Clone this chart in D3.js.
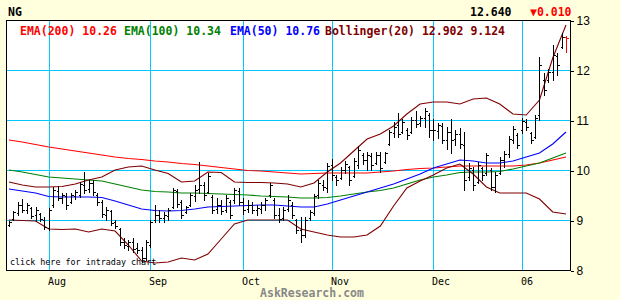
<!DOCTYPE html>
<html>
<head>
<meta charset="utf-8">
<script src="https://cdn.jsdelivr.net/npm/d3@7/dist/d3.min.js"></script>
<style>
  html, body { margin: 0; padding: 0; background: #ffffdd; }
  svg { display: block; }
  .mono { font-family: "DejaVu Sans Mono", "Liberation Mono", monospace; }
</style>
</head>
<body>
<div id="chart"></div>
<script>
"use strict";

// header
var symbol = "NG";
var lastPrice = "12.640";
var lastChange = "\u25BC0.010";

// daily bars (one per trading day, oldest first)
var barHigh = [
  8.98, 9.18, 9.36, 9.42, 9.34, 9.26, 9.26, 9.14, 9.06, 9.24,
  9.66, 9.68, 9.54, 9.54, 9.54, 9.60, 9.76, 9.96, 9.80, 9.80,
  9.54, 9.40, 9.26, 9.20, 9.00, 8.84, 8.64, 8.60, 8.64, 8.54,
  8.46, 8.60, 9.00, 9.30, 9.20, 9.16, 9.24, 9.64, 9.62, 9.40,
  9.28, 9.54, 9.70, 10.16, 9.76, 9.94, 9.50, 9.44, 9.40, 9.50,
  9.40, 9.64, 9.64, 9.44, 9.40, 9.36, 9.30, 9.36, 9.44, 9.74,
  9.44, 9.24, 9.26, 9.50, 9.36, 9.02, 9.06, 9.06, 9.20, 9.52,
  9.80, 9.80, 10.14, 10.22, 9.90, 10.06, 10.18, 10.08, 10.24, 10.48,
  10.34, 10.36, 10.34, 10.36, 10.36, 10.36, 10.80, 10.96, 11.14, 11.02,
  10.84, 11.06, 11.18, 11.08, 11.24, 11.14, 11.02, 10.94, 10.94, 10.86,
  11.02, 10.80, 10.84, 10.76, 10.14, 10.06, 10.16, 10.06, 10.34, 10.04,
  9.96, 10.26, 10.38, 10.68, 10.88, 10.74, 11.04, 11.02, 10.76, 11.10,
  12.26, 11.94, 12.02, 12.50, 12.34, 12.74, 12.68
];
var barLow = [
  8.88, 9.00, 9.10, 9.16, 9.14, 9.04, 8.98, 8.98, 8.82, 8.80,
  9.26, 9.40, 9.34, 9.22, 9.34, 9.42, 9.46, 9.54, 9.56, 9.50,
  9.30, 9.06, 9.00, 8.90, 8.84, 8.50, 8.44, 8.40, 8.36, 8.34,
  8.16, 8.20, 8.46, 8.96, 8.96, 8.96, 9.00, 9.24, 9.26, 9.04,
  9.14, 9.28, 9.38, 9.54, 9.40, 9.54, 9.14, 9.14, 9.12, 9.16,
  9.04, 9.34, 9.30, 9.12, 9.16, 9.14, 9.10, 9.14, 9.20, 9.46,
  9.04, 8.96, 9.00, 9.18, 9.04, 8.74, 8.56, 8.66, 9.00, 9.10,
  9.44, 9.60, 9.56, 9.80, 9.70, 9.82, 9.94, 9.70, 9.86, 10.04,
  10.12, 10.00, 10.00, 10.12, 9.96, 10.14, 10.50, 10.66, 10.66, 10.74,
  10.62, 10.74, 10.86, 10.88, 10.86, 10.66, 10.60, 10.64, 10.54, 10.42,
  10.34, 10.50, 10.44, 9.60, 9.80, 9.60, 9.74, 9.80, 9.90, 9.60,
  9.56, 9.92, 10.06, 10.26, 10.54, 10.44, 10.74, 10.80, 10.54, 10.64,
  11.00, 11.50, 11.76, 11.80, 11.90, 12.44, 12.36
];
var barOpen = [
  8.90, 9.02, 9.14, 9.30, 9.20, 9.24, 9.10, 9.12, 9.00, 8.84,
  9.30, 9.58, 9.45, 9.48, 9.36, 9.48, 9.50, 9.70, 9.62, 9.74,
  9.50, 9.36, 9.10, 9.18, 8.96, 8.82, 8.56, 8.48, 8.56, 8.44,
  8.40, 8.24, 8.50, 9.00, 9.10, 9.04, 9.08, 9.26, 9.58, 9.36,
  9.16, 9.30, 9.48, 9.62, 9.70, 9.56, 9.46, 9.22, 9.30, 9.20,
  9.36, 9.40, 9.58, 9.36, 9.22, 9.30, 9.20, 9.22, 9.30, 9.50,
  9.40, 9.10, 9.04, 9.22, 9.30, 9.00, 8.80, 8.70, 9.04, 9.14,
  9.50, 9.70, 9.64, 10.10, 9.86, 9.84, 10.00, 10.06, 9.88, 10.10,
  10.30, 10.20, 10.28, 10.14, 10.30, 10.16, 10.52, 10.74, 10.90, 10.76,
  10.80, 10.76, 11.00, 10.94, 11.04, 11.10, 10.80, 10.78, 10.88, 10.60,
  10.76, 10.62, 10.72, 10.50, 9.86, 10.00, 9.76, 10.04, 9.94, 10.00,
  9.66, 9.94, 10.20, 10.32, 10.60, 10.70, 10.80, 10.96, 10.74, 10.66,
  11.10, 11.80, 11.80, 11.96, 12.28, 12.46, 12.65
];
var barClose = [
  8.96, 9.15, 9.30, 9.20, 9.30, 9.08, 9.20, 9.02, 8.86, 9.20,
  9.60, 9.45, 9.50, 9.30, 9.50, 9.55, 9.72, 9.60, 9.75, 9.55,
  9.36, 9.12, 9.20, 8.94, 8.88, 8.56, 8.50, 8.56, 8.42, 8.40,
  8.24, 8.56, 8.96, 9.10, 9.04, 9.10, 9.20, 9.60, 9.32, 9.10,
  9.26, 9.50, 9.60, 9.70, 9.50, 9.88, 9.20, 9.30, 9.18, 9.44,
  9.10, 9.60, 9.36, 9.20, 9.30, 9.20, 9.24, 9.30, 9.40, 9.70,
  9.10, 9.02, 9.20, 9.40, 9.10, 8.80, 8.70, 9.00, 9.16, 9.48,
  9.74, 9.66, 10.08, 9.90, 9.80, 10.00, 10.12, 9.80, 10.18, 10.40,
  10.20, 10.30, 10.10, 10.30, 10.04, 10.34, 10.76, 10.86, 10.72, 10.96,
  10.70, 11.00, 10.92, 11.04, 11.18, 10.80, 10.80, 10.90, 10.60, 10.76,
  10.60, 10.72, 10.52, 9.80, 10.04, 9.70, 10.10, 9.90, 10.30, 9.66,
  9.90, 10.20, 10.32, 10.62, 10.82, 10.50, 10.98, 10.86, 10.60, 11.04,
  12.10, 11.60, 11.96, 12.30, 12.10, 12.65, 12.64
];

// month labels and the bar index of each month's first session
var monthLabels = ["Aug", "Sep", "Oct", "Nov", "Dec", "06"];
var monthIndex = [9, 32, 53, 73, 96, 116];

var priceTicks = [8, 9, 10, 11, 12, 13];

// indicator lines, read every third bar
var lineIdx = [0, 3, 6, 9, 12, 15, 18, 21, 24, 27, 30, 33, 36, 39, 42, 45, 48, 51, 54, 57, 60,
  63, 66, 69, 72, 75, 78, 81, 84, 87, 90, 93, 96, 99, 102, 105, 108, 111, 114, 117, 120, 123, 126];
var ema200 = [10.60, 10.56, 10.51, 10.46, 10.42, 10.38, 10.34, 10.30, 10.26, 10.23, 10.21,
  10.18, 10.16, 10.13, 10.11, 10.08, 10.05, 10.02, 9.99, 9.98, 9.96, 9.94, 9.92, 9.93, 9.94,
  9.94, 9.94, 9.94, 9.96, 9.98, 10.01, 10.03, 10.04, 10.06, 10.08, 10.08, 10.08, 10.08, 10.08,
  10.10, 10.14, 10.20, 10.26];
var ema100 = [10.00, 9.96, 9.91, 9.86, 9.84, 9.82, 9.80, 9.78, 9.72, 9.66, 9.60, 9.57, 9.56,
  9.54, 9.54, 9.53, 9.52, 9.51, 9.50, 9.48, 9.47, 9.46, 9.44, 9.44, 9.45, 9.48, 9.52, 9.56,
  9.59, 9.64, 9.72, 9.80, 9.86, 9.90, 9.95, 9.96, 9.96, 9.97, 10.02, 10.08, 10.14, 10.24, 10.34];
var ema50 = [9.62, 9.58, 9.54, 9.47, 9.46, 9.46, 9.46, 9.45, 9.38, 9.30, 9.22, 9.19, 9.18,
  9.19, 9.22, 9.26, 9.27, 9.28, 9.29, 9.30, 9.30, 9.28, 9.26, 9.26, 9.32, 9.40, 9.48, 9.56,
  9.64, 9.72, 9.82, 9.92, 10.04, 10.12, 10.20, 10.18, 10.14, 10.14, 10.18, 10.26, 10.34, 10.52, 10.76];
var bollUpper = [9.76, 9.70, 9.66, 9.66, 9.67, 9.72, 9.80, 9.86, 10.00, 10.06, 10.08, 10.00,
  9.93, 9.76, 9.78, 9.96, 9.95, 9.76, 9.75, 9.75, 9.74, 9.72, 9.66, 9.74, 9.96, 10.14, 10.38,
  10.62, 10.72, 10.88, 11.12, 11.32, 11.36, 11.36, 11.32, 11.42, 11.44, 11.32, 11.12, 11.10,
  11.40, 12.24, 12.90];
var bollLower = [9.00, 8.99, 8.98, 8.82, 8.81, 8.82, 8.76, 8.82, 8.78, 8.50, 8.18, 8.14, 8.16,
  8.24, 8.20, 8.32, 8.62, 8.92, 9.00, 9.00, 9.00, 9.00, 8.82, 8.76, 8.70, 8.66, 8.66, 8.70,
  8.88, 9.28, 9.64, 9.78, 9.90, 10.04, 10.12, 9.92, 9.66, 9.54, 9.54, 9.54, 9.42, 9.16, 9.12];

// legend: label, value, colour
var legendLabels = ["EMA(200)", "EMA(100)", "EMA(50)", "Bollinger(20)"];
var legendValues = ["10.26", "10.34", "10.76", "12.902 9.124"];

var WIDTH = 620, HEIGHT = 300;
var plot = { left: 6, right: 570, top: 20, bottom: 270 };
var GRID = "#00c8ff";
var lineColors = { ema200: "#ff0000", ema100: "#008000", ema50: "#0000ff", boll: "#800000" };
var legendColors = [lineColors.ema200, lineColors.ema100, lineColors.ema50, lineColors.boll];
var legendX = [20, 124, 230, 325];

var svg = d3.select("#chart").append("svg")
  .attr("width", WIDTH)
  .attr("height", HEIGHT);

var x = d3.scaleLinear().domain([0, barHigh.length - 1]).range([9, 566]);
var y = d3.scaleLinear().domain([8, 13]).range([plot.bottom, plot.top]);

function px(v) { return Math.round(v) + 0.5; }

svg.append("rect")
  .attr("x", plot.left + 0.5)
  .attr("y", plot.top + 0.5)
  .attr("width", plot.right - plot.left)
  .attr("height", plot.bottom - plot.top)
  .attr("fill", "#ffffff");

// grid
var grid = svg.append("g").attr("shape-rendering", "crispEdges");
grid.selectAll("line.h")
  .data(priceTicks.filter(function (d) { return d > 8 && d < 13; }))
  .enter().append("line")
  .attr("x1", plot.left).attr("x2", plot.right)
  .attr("y1", function (d) { return px(y(d)); })
  .attr("y2", function (d) { return px(y(d)); })
  .attr("stroke", GRID);
grid.selectAll("line.v")
  .data(monthIndex)
  .enter().append("line")
  .attr("x1", function (d) { return px(x(d)); })
  .attr("x2", function (d) { return px(x(d)); })
  .attr("y1", plot.top).attr("y2", plot.bottom)
  .attr("stroke", GRID);

// indicator lines
var series = [
  { values: ema200, color: lineColors.ema200 },
  { values: ema100, color: lineColors.ema100 },
  { values: ema50, color: lineColors.ema50 },
  { values: bollUpper, color: lineColors.boll },
  { values: bollLower, color: lineColors.boll }
];
var line = d3.line()
  .x(function (d, i) { return x(lineIdx[i]); })
  .y(function (d) { return y(d); });
svg.append("g")
  .selectAll("path")
  .data(series)
  .enter().append("path")
  .attr("d", function (s) { return line(s.values); })
  .attr("fill", "none")
  .attr("stroke", function (s) { return s.color; })
  .attr("stroke-width", 1.1);

// OHLC bars
var bars = svg.append("g").attr("shape-rendering", "crispEdges");
bars.selectAll("g.bar")
  .data(barHigh.map(function (h, i) { return i; }))
  .enter().append("g")
  .attr("class", "bar")
  .attr("stroke", function (i) { return i === barHigh.length - 1 ? "#ff0000" : "#000000"; })
  .each(function (i) {
    var g = d3.select(this);
    var cx = px(x(i));
    g.append("line").attr("x1", cx).attr("x2", cx)
      .attr("y1", Math.round(y(barHigh[i]))).attr("y2", Math.round(y(barLow[i])) + 1);
    g.append("line").attr("x1", cx - 2).attr("x2", cx)
      .attr("y1", px(y(barOpen[i]))).attr("y2", px(y(barOpen[i])));
    g.append("line").attr("x1", cx).attr("x2", cx + 2)
      .attr("y1", px(y(barClose[i]))).attr("y2", px(y(barClose[i])));
  });

// frame
svg.append("rect")
  .attr("x", plot.left + 0.5)
  .attr("y", plot.top + 0.5)
  .attr("width", plot.right - plot.left)
  .attr("height", plot.bottom - plot.top)
  .attr("fill", "none")
  .attr("stroke", "#000")
  .attr("shape-rendering", "crispEdges");

// right price axis
var yAxis = svg.append("g")
  .attr("transform", "translate(" + (plot.right + 0.5) + ",0.5)")
  .call(d3.axisRight(y).tickValues(priceTicks).tickSize(3).tickPadding(3).tickFormat(d3.format("d")));
yAxis.select(".domain").remove();
yAxis.selectAll("line").attr("shape-rendering", "crispEdges");
yAxis.selectAll("text")
  .attr("font-family", "'Liberation Sans', Arial, sans-serif")
  .attr("font-size", 12)
  .attr("fill", "#000");

// month labels
svg.append("g")
  .selectAll("text")
  .data(monthIndex)
  .enter().append("text")
  .attr("class", "mono")
  .attr("x", function (d) { return Math.round(x(d)) - 1; })
  .attr("y", 285)
  .attr("font-size", 10)
  .attr("fill", "#000")
  .text(function (d, i) { return monthLabels[i]; });

// legend
var legend = svg.append("g").attr("class", "mono")
  .attr("font-size", 11.5).attr("font-weight", "bold");
legend.selectAll("text")
  .data(legendLabels)
  .enter().append("text")
  .attr("x", function (d, i) { return legendX[i]; })
  .attr("y", 35)
  .attr("fill", function (d, i) { return legendColors[i]; })
  .text(function (d, i) { return d + " " + legendValues[i]; });

// header
var header = svg.append("g").attr("class", "mono")
  .attr("font-size", 11.5).attr("font-weight", "bold");
header.append("text").attr("x", 8).attr("y", 16).attr("fill", "#000").text(symbol);
header.append("text").attr("x", 470).attr("y", 16).attr("fill", "#000").text(lastPrice);
header.append("text").attr("x", 530).attr("y", 16).attr("fill", "#ff0000").text(lastChange);

svg.append("text").attr("class", "mono")
  .attr("x", 10).attr("y", 265)
  .attr("font-size", 8.4)
  .attr("fill", "#000")
  .text("click here for intraday chart");

svg.append("text").attr("class", "mono")
  .attr("x", 312).attr("y", 297)
  .attr("text-anchor", "middle")
  .attr("font-size", 11.5).attr("font-weight", "bold")
  .attr("fill", "#888888")
  .text("AskResearch.com");
</script>
</body>
</html>
